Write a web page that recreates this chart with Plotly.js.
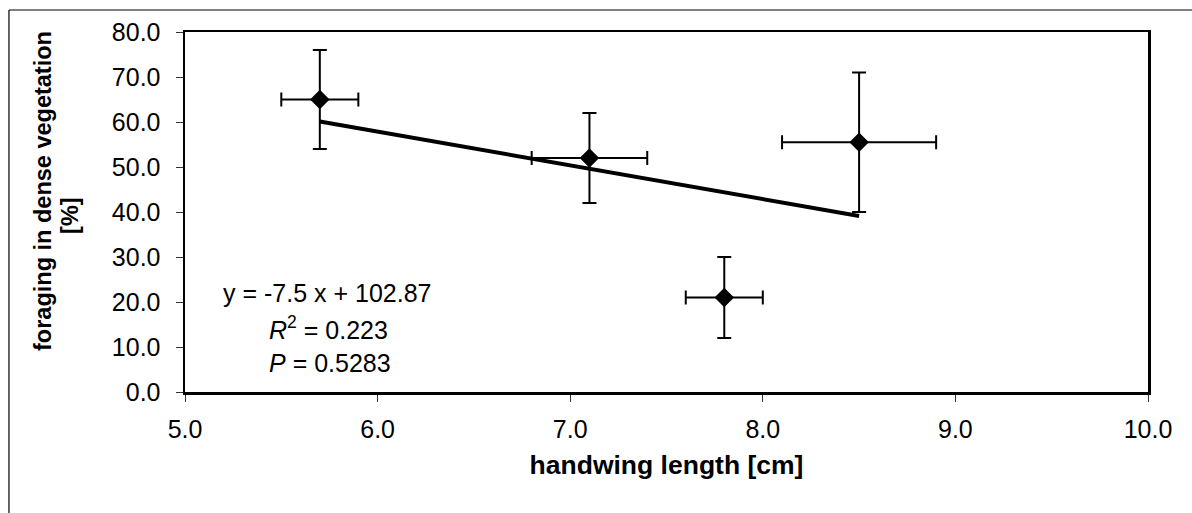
<!DOCTYPE html>
<html>
<head>
<meta charset="utf-8">
<script src="https://cdn.plot.ly/plotly-3.0.1.min.js"></script>
<style>
  html, body { margin: 0; padding: 0; background: #fff; }
  #chart { width: 1192px; height: 513px; }
</style>
</head>
<body>
<div id="chart"></div>
<script>
// Data
const handwing = [5.7, 7.1, 7.8, 8.5];          // cm
const foraging = [65.0, 52.0, 21.0, 55.5];       // %
const handwingErr = [0.2, 0.3, 0.2, 0.4];
const foragingErr = [11.0, 10.0, 9.0, 15.5];
const slope = -7.5;
const intercept = 102.87;
const eqLabel = "y = -7.5 x + 102.87";
const r2Label = "<i>R</i><sup>2</sup> = 0.223";
const pLabel = "<i>P</i> = 0.5283";
const xTitle = "handwing length [cm]";
const yTitleLine1 = "foraging in dense vegetation";
const yTitleLine2 = "[%]";

const xMin = Math.min(...handwing), xMax = Math.max(...handwing);
const trendX = [xMin, xMax];
const trendY = trendX.map(v => slope * v + intercept);

const font = "Liberation Sans, Arial, sans-serif";

const traces = [
  {
    x: trendX, y: trendY, type: 'scatter', mode: 'lines',
    line: { color: '#000', width: 4 }, hoverinfo: 'skip'
  },
  {
    x: handwing, y: foraging, type: 'scatter', mode: 'markers',
    marker: { symbol: 'diamond', size: 15, color: '#000' },
    error_y: { type: 'data', array: foragingErr, visible: true, color: '#000', thickness: 2, width: 7 },
    error_x: { type: 'data', array: handwingErr, visible: true, color: '#000', thickness: 2, width: 7 }
  }
];

const layout = {
  width: 1192, height: 513,
  margin: { l: 185, r: 44, t: 32, b: 121 },
  paper_bgcolor: '#fff', plot_bgcolor: '#fff',
  showlegend: false,
  font: { family: font, color: '#000', size: 25 },
  xaxis: {
    range: [5, 10], dtick: 1, tick0: 5, tickformat: '.1f',
    showgrid: false, zeroline: false,
    showline: true, mirror: true, linecolor: '#000', linewidth: 2.5,
    ticks: 'outside', ticklen: 7, tickwidth: 1, tickcolor: '#333',
    ticklabelstandoff: 6,
    tickfont: { family: font, size: 25, color: '#000' },
    title: { text: '<b>' + xTitle + '</b>', font: { family: font, size: 26.5, color: '#000' }, standoff: 14 }
  },
  yaxis: {
    range: [0, 80], dtick: 10, tick0: 0, tickformat: '.1f',
    showgrid: false, zeroline: false,
    showline: true, mirror: true, linecolor: '#000', linewidth: 2.5,
    ticks: 'outside', ticklen: 7, tickwidth: 1, tickcolor: '#333',
    ticklabelstandoff: 10,
    tickfont: { family: font, size: 25, color: '#000' }
  },
  annotations: [
    { xref: 'paper', yref: 'paper', x: -0.1475, y: 0.5583, xanchor: 'center', yanchor: 'middle',
      textangle: -90, showarrow: false,
      text: '<b>' + yTitleLine1 + '</b>', font: { family: font, size: 23.5, color: '#000' } },
    { xref: 'paper', yref: 'paper', x: -0.1195, y: 0.4917, xanchor: 'center', yanchor: 'middle',
      textangle: -90, showarrow: false,
      text: '<b>' + yTitleLine2 + '</b>', font: { family: font, size: 23.5, color: '#000' } },
    { xref: 'x', yref: 'y', x: 5.187, y: 22.0, xanchor: 'left', yanchor: 'middle', showarrow: false,
      text: eqLabel, font: { family: font, size: 25, color: '#000' } },
    { xref: 'x', yref: 'y', x: 5.426, y: 14.2, xanchor: 'left', yanchor: 'middle', showarrow: false,
      text: r2Label, font: { family: font, size: 25, color: '#000' } },
    { xref: 'x', yref: 'y', x: 5.426, y: 6.4, xanchor: 'left', yanchor: 'middle', showarrow: false,
      text: pLabel, font: { family: font, size: 25, color: '#000' } }
  ],
  shapes: [
    { type: 'line', xref: 'paper', yref: 'paper', x0: -0.1828, x1: 1.05, y0: 1.0611, y1: 1.0611,
      line: { color: '#000', width: 1.2 } },
    { type: 'line', xref: 'paper', yref: 'paper', x0: -0.1828, x1: -0.1828, y0: 1.0611, y1: -0.34,
      line: { color: '#000', width: 1.2 } }
  ]
};

Plotly.newPlot('chart', traces, layout, { displayModeBar: false, staticPlot: true });
</script>
</body>
</html>
